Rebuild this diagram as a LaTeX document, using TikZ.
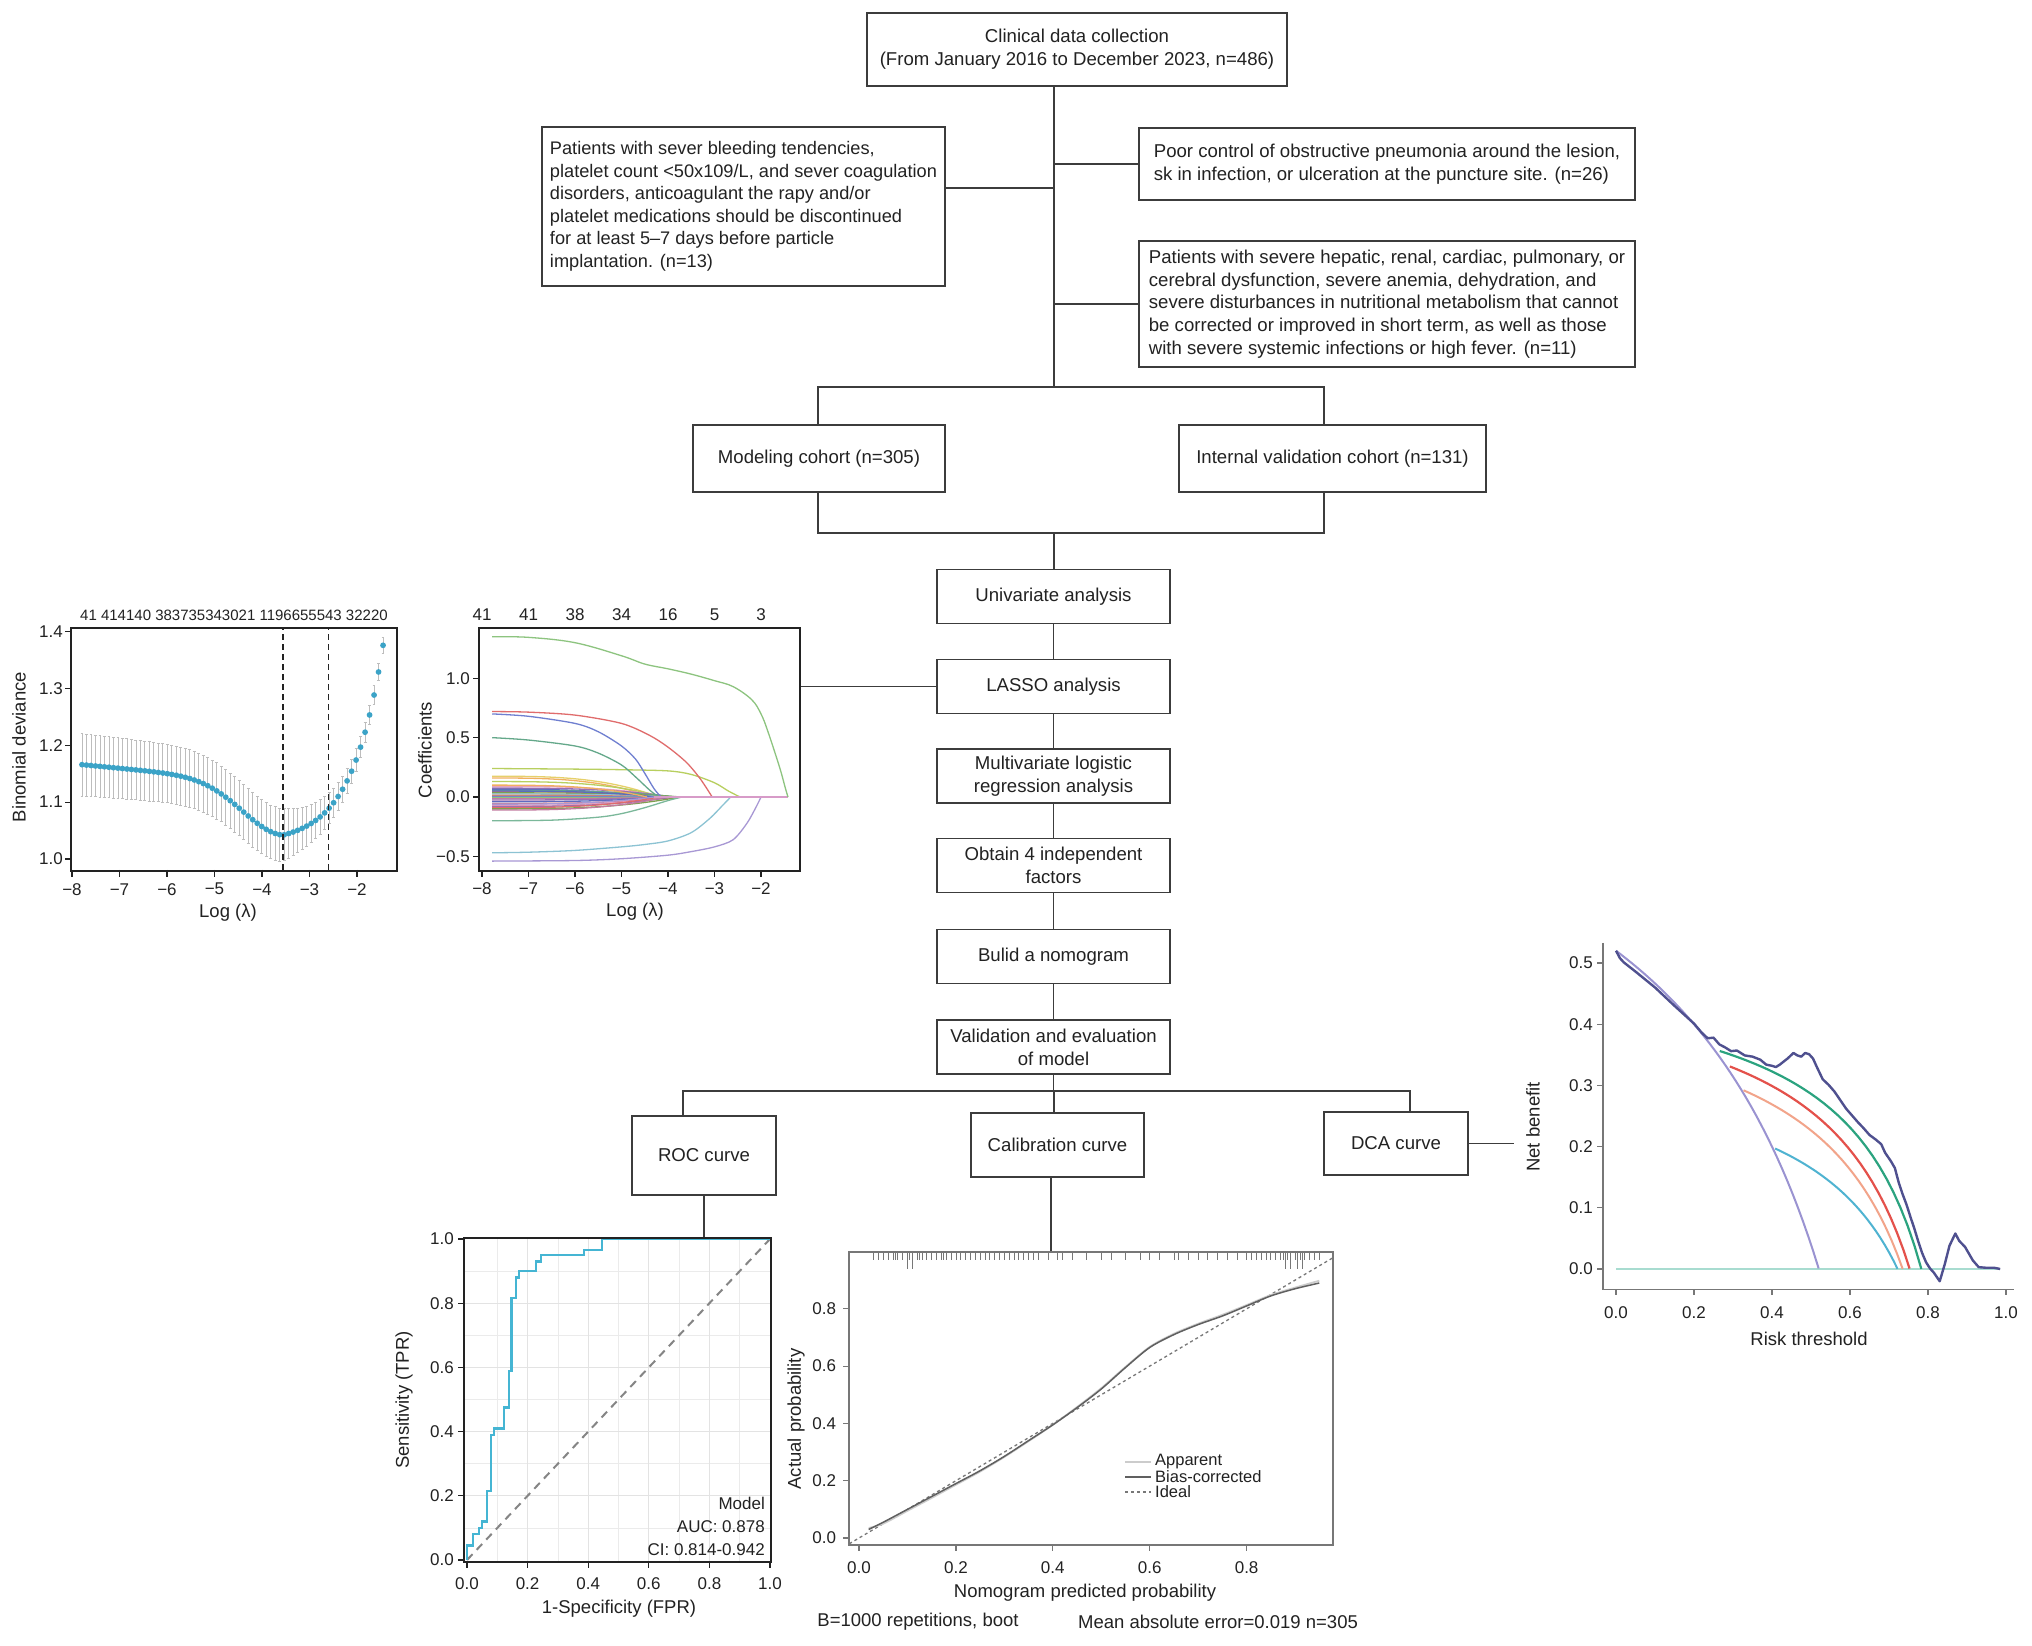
\documentclass[tikz,border=0pt]{standalone}
\usepackage{fontspec}
\setmainfont{Liberation Sans}
\definecolor{txt}{HTML}{222222}
\definecolor{boxc}{HTML}{3C3C3C}
\definecolor{linec}{HTML}{3C3C3C}
\definecolor{cvblue}{HTML}{3BA3C7}
\definecolor{cvgray}{HTML}{BDBDBD}
\definecolor{gridc}{HTML}{E3E3E3}
\definecolor{rocc}{HTML}{45B5D3}
\definecolor{lgA}{HTML}{8DC47F}
\definecolor{lgB}{HTML}{E06C6C}
\definecolor{lgC}{HTML}{6F7FD0}
\definecolor{lgD}{HTML}{64A88A}
\definecolor{lgE}{HTML}{B8CF5F}
\definecolor{lgF}{HTML}{8CC3D3}
\definecolor{lgG}{HTML}{A898D4}
\definecolor{lgH}{HTML}{7BB89A}
\definecolor{lgI}{HTML}{E6D06A}
\definecolor{lgJ}{HTML}{F0B060}
\definecolor{lgK}{HTML}{E7A0C0}
\definecolor{lgL}{HTML}{9B6FB0}
\definecolor{lgM}{HTML}{5C6BC0}
\definecolor{lgN}{HTML}{C27BA0}
\definecolor{lgO}{HTML}{7F9F4F}
\definecolor{lgP}{HTML}{D9826A}
\definecolor{lgZ}{HTML}{D79BC8}
\definecolor{dnavy}{HTML}{4F508F}
\definecolor{dgreen}{HTML}{2BA37F}
\definecolor{dred}{HTML}{E4514B}
\definecolor{dsalmon}{HTML}{F2A48A}
\definecolor{dcyan}{HTML}{4FB3D1}
\definecolor{dlav}{HTML}{9A93D1}
\definecolor{dnone}{HTML}{A8DCD0}
\definecolor{axg}{HTML}{777777}
\tikzset{
  box/.style={draw=boxc, line width=1.6pt, inner sep=0pt, align=center, text=txt, font=\fontsize{18.6}{22.8}\selectfont},
  stepbox/.style={box, minimum width=233pt, minimum height=54pt},
  conn/.style={draw=linec, line width=1.5pt},
  lab/.style={font=\fontsize{17}{20}\selectfont, text=txt, inner sep=0pt},
  titlelab/.style={font=\fontsize{18.5}{21}\selectfont, text=txt, inner sep=0pt},
  smalllab/.style={font=\fontsize{15}{17}\selectfont, text=txt, inner sep=0pt},
  leglab/.style={font=\fontsize{16.5}{18}\selectfont, text=txt, inner sep=0pt},
  plotframe/.style={draw=txt, line width=1.6pt, inner sep=0pt},
  tickline/.style={draw=txt, line width=1.2pt},
  lassoline/.style={line width=1.3pt},
}
\begin{document}
\begin{tikzpicture}[x=1pt,y=-1pt]
\useasboundingbox (0,0) rectangle (2032,1646);
\fill[white] (0,0) rectangle (2032,1646);

% ---------------- flowchart boxes ----------------
\node[box, minimum width=420pt, minimum height=73pt] (collect) at (1077,49.5) {Clinical data collection\\(From January 2016 to December 2023, n=486)};
\node[box, align=left, font=\fontsize{18.2}{22.5}\selectfont, minimum width=403pt, minimum height=159pt] (excl1) at (743.5,206.5) {Patients with sever bleeding tendencies,\\platelet count <50x109/L, and sever coagulation\\disorders, anticoagulant the rapy and/or\\platelet medications should be discontinued\\for at least 5–7 days before particle\\implantation. (n=13)};
\node[box, align=left, minimum width=496pt, minimum height=72pt] (excl2) at (1387,164) {Poor control of obstructive pneumonia around the lesion,\\sk in infection, or ulceration at the puncture site. (n=26)};
\node[box, align=left, minimum width=496pt, minimum height=126pt] (excl3) at (1387,304) {Patients with severe hepatic, renal, cardiac, pulmonary, or\\cerebral dysfunction, severe anemia, dehydration, and\\severe disturbances in nutritional metabolism that cannot\\be corrected or improved in short term, as well as those\\with severe systemic infections or high fever. (n=11)};
\node[box, minimum width=252pt, minimum height=67pt] (model) at (819,458.5) {Modeling cohort (n=305)};
\node[box, minimum width=307pt, minimum height=67pt] (intval) at (1332.5,458.5) {Internal validation cohort (n=131)};
\node[stepbox] (uni) at (1053.5,596.5) {Univariate analysis};
\node[stepbox] (lasso) at (1053.5,686.5) {LASSO analysis};
\node[stepbox] (multi) at (1053.5,776) {Multivariate logistic\\regression analysis};
\node[stepbox] (obtain) at (1053.5,865.5) {Obtain 4 independent\\factors};
\node[stepbox] (build) at (1053.5,956.5) {Bulid a nomogram};
\node[stepbox] (valid) at (1053.5,1047) {Validation and evaluation\\of model};
\node[box, minimum width=144pt, minimum height=79pt] (roc) at (704,1155.5) {ROC curve};
\node[box, minimum width=173pt, minimum height=64pt] (calib) at (1057.5,1145) {Calibration curve};
\node[box, minimum width=144pt, minimum height=63pt] (dca) at (1396,1143.5) {DCA curve};

% ---------------- CV plot ----------------
\begin{scope}[shift={(452,1428)}, x={(47.5pt,0pt)}, y={(0pt,569pt)}]
  \foreach \i in {0,...,67}{
    \pgfmathsetmacro\lv{-7.79+\i*0.0946}
    \pgfmathsetmacro\dv{-3.56-\lv}
    \pgfmathsetmacro\mv{\dv>0 ? 1.042+0.09*(1-exp(-1*(\dv/1.2)*(\dv/1.2)))+0.008*\dv : 1.042+0.0138*(exp(-1.53*\dv)-1)}
    \pgfmathsetmacro\sv{\dv>0 ? 0.0465+0.002*\dv : 0.0465*exp(0.55*\dv)}
    \draw[cvgray, line width=0.8pt] (\lv,\mv-\sv) -- (\lv,\mv+\sv) (\lv-0.03,\mv-\sv) -- (\lv+0.03,\mv-\sv) (\lv-0.03,\mv+\sv) -- (\lv+0.03,\mv+\sv);
  }
  \foreach \i in {0,...,67}{
    \pgfmathsetmacro\lv{-7.79+\i*0.0946}
    \pgfmathsetmacro\dv{-3.56-\lv}
    \pgfmathsetmacro\mv{\dv>0 ? 1.042+0.09*(1-exp(-1*(\dv/1.2)*(\dv/1.2)))+0.008*\dv : 1.042+0.0138*(exp(-1.53*\dv)-1)}
    \fill[cvblue] (\lv,\mv) circle[radius=2.9pt];
  }
  \draw[txt, line width=1.6pt, dash pattern=on 6pt off 4pt] (-3.56,0.981) -- (-3.56,1.404);
  \draw[txt, line width=1.6pt, dash pattern=on 6pt off 4pt] (-2.6,0.981) -- (-2.6,1.404);
  \foreach \t/\tl in {-8/−8,-7/−7,-6/−6,-5/−5,-4/−4,-3/−3,-2/−2}{
    \draw[tickline] (\t,0.981) -- (\t,0.968);
    \node[lab] at (\t,0.947) {\tl};
  }
  \foreach \d in {1.0,1.1,1.2,1.3,1.4}{
    \draw[tickline] (-8.02,\d) -- (-8.15,\d);
    \node[lab, anchor=east] at (-8.19,\d) {\d};
  }
\end{scope}
\node[plotframe, minimum width=326pt, minimum height=243pt] (cvframe) at (234,749.5) {};
\node[smalllab] (cvtop) at (234,615) {41 414140 383735343021 1196655543 32220};
\node[titlelab, rotate=90] (cvylab) at (19,747) {Binomial deviance};
\node[titlelab] (cvxlab) at (228,913) {Log (λ)};

% ---------------- LASSO coefficient plot ----------------
\begin{scope}[shift={(854,797)}, x={(46.5pt,0pt)}, y={(0pt,118.7pt)}]
  \foreach \c/\z/\col in {0.175/-4.2/lgI, 0.16/-4.35/lgJ, 0.13/-4.1/lgE, 0.09/-4.0/lgK, 0.075/-3.9/lgL, 0.065/-4.4/lgM, 0.055/-3.8/lgD, 0.045/-4.1/lgB, 0.035/-3.7/lgO, 0.025/-3.9/lgF, 0.015/-4.2/lgP, 0.005/-3.95/lgC, -0.005/-3.8/lgA, -0.015/-4.0/lgN, -0.025/-3.9/lgL, -0.04/-4.1/lgM, -0.055/-3.8/lgB, -0.07/-4.0/lgK, -0.08/-3.9/lgL, -0.09/-4.2/lgB, -0.1/-3.75/lgO, -0.11/-4.05/lgN, 0.05/-4.25/lgM, -0.06/-4.3/lgG, 0.1/-4.45/lgJ}{
    \draw[\col, lassoline] plot[smooth, domain=0:1, samples=20] ({-7.78+\x*(\z+7.78)}, {\c*(1-\x*\x*\x)});
  }
  \draw[lgH, lassoline] plot[smooth] coordinates {(-7.78,-0.20) (-6.5,-0.195) (-5.5,-0.17) (-5,-0.14) (-4.5,-0.09) (-4,-0.03) (-3.7,0)};
  \draw[lgE, lassoline] plot[smooth] coordinates {(-7.78,0.24) (-6,0.235) (-5,0.23) (-4,0.22) (-3.5,0.19) (-3,0.12) (-2.7,0.05) (-2.45,0)};
  \draw[lgD, lassoline] plot[smooth] coordinates {(-7.78,0.50) (-7,0.48) (-6,0.43) (-5.5,0.37) (-5,0.27) (-4.7,0.17) (-4.4,0.06) (-4.2,0)};
  \draw[lgC, lassoline] plot[smooth] coordinates {(-7.78,0.70) (-7,0.68) (-6,0.62) (-5.5,0.55) (-5,0.43) (-4.7,0.32) (-4.5,0.2) (-4.3,0.07) (-4.15,0)};
  \draw[lgB, lassoline] plot[smooth] coordinates {(-7.78,0.72) (-7,0.715) (-6,0.69) (-5,0.62) (-4.4,0.52) (-4,0.42) (-3.6,0.29) (-3.3,0.15) (-3.05,0)};
  \draw[lgF, lassoline] plot[smooth] coordinates {(-7.78,-0.47) (-7,-0.465) (-6,-0.45) (-5,-0.42) (-4.5,-0.40) (-4,-0.37) (-3.5,-0.30) (-3.1,-0.18) (-2.8,-0.06) (-2.65,0)};
  \draw[lgG, lassoline] plot[smooth] coordinates {(-7.78,-0.54) (-6,-0.535) (-5,-0.52) (-4,-0.49) (-3.5,-0.46) (-3.0,-0.42) (-2.6,-0.36) (-2.3,-0.22) (-2.1,-0.08) (-2.0,0)};
  \draw[lgZ, lassoline] (-4.3,0) -- (-1.42,0);
  \draw[lgA, lassoline] plot[smooth, tension=0.6] coordinates {(-7.78,1.35) (-7,1.345) (-6,1.30) (-5,1.19) (-4.5,1.12) (-4,1.08) (-3.5,1.035) (-3,0.98) (-2.6,0.93) (-2.2,0.82) (-2.0,0.70) (-1.85,0.55) (-1.6,0.25) (-1.48,0.08) (-1.42,0)};
  \foreach \t/\tl in {-8/−8,-7/−7,-6/−6,-5/−5,-4/−4,-3/−3,-2/−2}{
    \draw[tickline] (\t,-0.622) -- (\t,-0.673);
    \node[lab] at (\t,-0.775) {\tl};
  }
  \foreach \c/\cl in {-0.5/−0.5,0/0.0,0.5/0.5,1/1.0}{
    \draw[tickline] (-8.06,\c) -- (-8.19,\c);
    \node[lab, anchor=east] at (-8.26,\c) {\cl};
  }
  \foreach \t/\n in {-8/41,-7/41,-6/38,-5/34,-4/16,-3/5,-2/3}{
    \node[lab] at (\t,1.535) {\n};
  }
\end{scope}
\node[plotframe, minimum width=321pt, minimum height=243pt] (lassoframe) at (639.5,749.5) {};
\node[titlelab, rotate=90] (lassoylab) at (425,750) {Coefficients};
\node[titlelab] (lassoxlab) at (635,912) {Log (λ)};

% ---------------- ROC plot ----------------
\begin{scope}[shift={(467,1560)}, x={(303pt,0pt)}, y={(0pt,321pt)}]
  \foreach \g in {0.1,0.3,0.5,0.7,0.9}{
    \draw[gridc!70, line width=0.8pt] (\g,-0.006) -- (\g,1.006);
    \draw[gridc!70, line width=0.8pt] (-0.01,\g) -- (1.003,\g);
  }
  \foreach \g in {0.2,0.4,0.6,0.8}{
    \draw[gridc, line width=1.3pt] (\g,-0.006) -- (\g,1.006);
    \draw[gridc, line width=1.3pt] (-0.01,\g) -- (1.003,\g);
  }
  \draw[axg!90, line width=2pt, dash pattern=on 8pt off 6pt] (0,0) -- (1,1);
  \draw[rocc, line width=2.2pt] plot coordinates {(0,0) (0,0.045) (0.02,0.045) (0.02,0.08) (0.04,0.08) (0.04,0.10) (0.05,0.10) (0.05,0.12) (0.066,0.12) (0.066,0.215) (0.079,0.215) (0.079,0.39) (0.09,0.39) (0.09,0.41) (0.123,0.41) (0.123,0.475) (0.139,0.475) (0.139,0.59) (0.147,0.59) (0.147,0.815) (0.161,0.815) (0.161,0.88) (0.172,0.88) (0.172,0.90) (0.229,0.90) (0.229,0.93) (0.243,0.93) (0.243,0.95) (0.386,0.95) (0.386,0.965) (0.446,0.965) (0.446,1) (1,1)};
  \foreach \g in {0.0,0.2,0.4,0.6,0.8,1.0}{
    \draw[tickline] (-0.01,\g) -- (-0.03,\g);
    \node[lab, anchor=east] at (-0.043,\g) {\g};
    \draw[tickline] (\g,-0.006) -- (\g,-0.025);
    \node[lab] at (\g,-0.075) {\g};
  }
\end{scope}
\node[plotframe, minimum width=307pt, minimum height=324pt] (rocframe) at (617.5,1400) {};
\node[lab, anchor=east] (rocm) at (765,1503) {Model};
\node[lab, anchor=east] (roca) at (765,1527) {AUC: 0.878};
\node[lab, anchor=east] (rocci) at (765,1550) {CI: 0.814-0.942};
\node[titlelab, rotate=90] (rocylab) at (404,1400) {Sensitivity (TPR)};
\node[titlelab] (rocxlab) at (619,1609) {1-Specificity (FPR)};

% ---------------- Calibration plot ----------------
\begin{scope}[shift={(859,1538)}, x={(484.5pt,0pt)}, y={(0pt,286.5pt)}]
  \foreach \r in {0.03,0.04,0.05,0.06,0.07,0.075,0.08,0.09,0.1,0.105,0.11,0.12,0.125,0.13,0.14,0.15,0.16,0.17,0.175,0.18,0.19,0.2,0.21,0.22,0.23,0.24,0.25,0.26,0.27,0.28,0.29,0.3,0.31,0.32,0.33,0.34,0.35,0.36,0.37,0.39,0.41,0.42,0.44,0.47,0.5,0.52,0.55,0.58,0.6,0.62,0.65,0.66,0.68,0.7,0.72,0.74,0.76,0.78,0.8,0.81,0.82,0.83,0.84,0.85,0.86,0.87,0.875,0.88,0.885,0.89,0.9,0.905,0.91,0.92,0.93,0.94,0.95}{
    \draw[axg, line width=0.8pt] (\r,0.998) -- (\r,0.972);
  }
  \foreach \r in {0.1,0.11,0.88,0.89,0.905,0.915}{
    \draw[axg, line width=0.8pt] (\r,0.998) -- (\r,0.94);
  }
  \draw[axg, line width=1.3pt, dash pattern=on 3pt off 3pt] (-0.02,-0.02) -- (0.978,0.978);
  \draw[gray!40, line width=1.8pt] plot[smooth] coordinates {(0.02,0.035) (0.05,0.05) (0.1,0.095) (0.15,0.14) (0.2,0.186) (0.25,0.232) (0.3,0.283) (0.35,0.338) (0.4,0.395) (0.45,0.457) (0.5,0.523) (0.55,0.597) (0.6,0.667) (0.65,0.713) (0.7,0.748) (0.75,0.779) (0.8,0.813) (0.85,0.848) (0.9,0.874) (0.95,0.898)};
  \draw[gray!75!black, line width=1.5pt] plot[smooth] coordinates {(0.02,0.03) (0.05,0.055) (0.1,0.1) (0.15,0.145) (0.2,0.19) (0.25,0.235) (0.3,0.285) (0.35,0.34) (0.4,0.395) (0.45,0.455) (0.5,0.52) (0.55,0.595) (0.6,0.665) (0.65,0.71) (0.7,0.745) (0.75,0.775) (0.8,0.81) (0.85,0.845) (0.9,0.87) (0.95,0.89)};
  \foreach \g in {0.0,0.2,0.4,0.6,0.8}{
    \draw[tickline, axg] (-0.02,\g) -- (-0.034,\g);
    \node[lab, anchor=east] at (-0.047,\g) {\g};
    \draw[tickline, axg] (\g,-0.024) -- (\g,-0.046);
    \node[lab] at (\g,-0.105) {\g};
  }
\end{scope}
\node[draw=axg, line width=1.4pt, inner sep=0pt, minimum width=484pt, minimum height=293pt] (calframe) at (1091,1398.5) {};
\coordinate (lg1) at (1125,1462);
\coordinate (lg2) at (1125,1477);
\coordinate (lg3) at (1125,1492);
\draw[gray!40, line width=1.8pt] (lg1) -- ++(26,0);
\draw[gray!75!black, line width=1.5pt] (lg2) -- ++(26,0);
\draw[axg, line width=1.3pt, dash pattern=on 3pt off 3pt] (lg3) -- ++(26,0);
\node[leglab, anchor=west] (lgt1) at (1155,1462) {Apparent};
\node[leglab, anchor=west] (lgt2) at (1155,1477) {Bias-corrected};
\node[leglab, anchor=west] (lgt3) at (1155,1492) {Ideal};
\node[titlelab, rotate=90] (calylab) at (796,1419) {Actual probability};
\node[titlelab] (calxlab) at (1085,1593) {Nomogram predicted probability};
\node[titlelab] (calb) at (918,1622) {B=1000 repetitions, boot};
\node[titlelab] (calmae) at (1218,1622) {Mean absolute error=0.019 n=305};

% ---------------- DCA plot ----------------
\begin{scope}[shift={(1616,1269)}, x={(390pt,0pt)}, y={(0pt,612pt)}]
  \draw[dnone, line width=2pt] (0,0) -- (0.985,0);
  \draw[dlav, line width=2pt] plot[domain=0:0.52, samples=40] (\x,{0.52-0.48*\x/(1-\x)});
  \draw[dcyan, line width=2pt] plot[domain=0.408:0.722, samples=30] (\x,{0.268-0.1032*\x/(1-\x)});
  \draw[dsalmon, line width=2pt] plot[domain=0.327:0.735, samples=30] (\x,{0.354-0.1276*\x/(1-\x)});
  \draw[dred, line width=2.2pt] plot[domain=0.292:0.753, samples=30] (\x,{0.3827-0.1255*\x/(1-\x)});
  \draw[dgreen, line width=2.2pt] plot[domain=0.266:0.783, samples=30] (\x,{0.396-0.1098*\x/(1-\x)});
  \draw[dnavy, line width=2.4pt, line join=round] plot coordinates {(0,0.52) (0.01,0.508) (0.02,0.501) (0.05,0.486) (0.1,0.46) (0.15,0.43) (0.2,0.401) (0.22,0.386) (0.235,0.377) (0.25,0.378) (0.265,0.367) (0.28,0.362) (0.295,0.356) (0.31,0.357) (0.33,0.349) (0.35,0.347) (0.37,0.342) (0.385,0.334) (0.4,0.332) (0.41,0.33) (0.42,0.334) (0.43,0.339) (0.44,0.344) (0.455,0.353) (0.465,0.349) (0.475,0.347) (0.485,0.353) (0.495,0.351) (0.505,0.344) (0.515,0.33) (0.53,0.31) (0.545,0.301) (0.56,0.29) (0.575,0.276) (0.59,0.262) (0.605,0.251) (0.62,0.24) (0.635,0.23) (0.65,0.219) (0.665,0.212) (0.68,0.204) (0.69,0.19) (0.705,0.176) (0.715,0.165) (0.725,0.141) (0.735,0.122) (0.745,0.105) (0.755,0.085) (0.765,0.066) (0.775,0.045) (0.785,0.026) (0.795,0.011) (0.805,0.001) (0.815,-0.006) (0.83,-0.02) (0.843,0.008) (0.855,0.038) (0.87,0.058) (0.88,0.046) (0.895,0.036) (0.905,0.025) (0.915,0.014) (0.93,0.003) (0.95,0.002) (0.97,0.002) (0.985,0.0)};
  \draw[axg, line width=1.4pt] (-0.033,0.533) -- (-0.033,-0.033) -- (1.02,-0.033);
  \foreach \g in {0.0,0.1,0.2,0.3,0.4,0.5}{
    \draw[axg, line width=1.2pt] (-0.033,\g) -- (-0.048,\g);
    \node[lab, anchor=east] at (-0.059,\g) {\g};
  }
  \foreach \g in {0.0,0.2,0.4,0.6,0.8,1.0}{
    \draw[axg, line width=1.2pt] (\g,-0.033) -- (\g,-0.043);
    \node[lab] at (\g,-0.072) {\g};
  }
\end{scope}
\node[titlelab, rotate=90] (dcaylab) at (1533,1127) {Net benefit};
\node[titlelab] (dcaxlab) at (1809,1339) {Risk threshold};

% ---------------- connectors ----------------
\coordinate (ju) at (1054,387);
\coordinate (jl) at (1054,188);
\draw[conn] (collect.south -| ju) -- (ju);
\draw[conn] (jl) -- (jl -| excl1.east);
\draw[conn] (excl2.west -| ju) -- (excl2.west);
\draw[conn] (excl3.west -| ju) -- (excl3.west);
\coordinate (ua) at (818,387);
\coordinate (ub) at (1324,387);
\draw[conn] (ua |- model.north) -- (ua) -- (ub) -- (ub |- intval.north);
\coordinate (la) at (818,533);
\coordinate (lb) at (1324,533);
\coordinate (lm) at (1054,533);
\draw[conn] (model.south -| la) -- (la) -- (lb) -- (intval.south -| lb);
\draw[conn] (lm) -- (uni.north -| lm);
\draw[conn] (uni) -- (lasso) -- (multi) -- (obtain) -- (build) -- (valid);
\coordinate (sa) at (683,1091);
\coordinate (sb) at (1410,1091);
\coordinate (sm) at (1054,1091);
\coordinate (cb) at (1051,1177);
\draw[conn] (valid.south) -- (valid.south |- sa);
\draw[conn] (sa |- roc.north) -- (sa) -- (sb) -- (sb |- dca.north);
\draw[conn] (sm) -- (sm |- calib.north);
\draw[conn] (roc.south) -- (roc.south |- rocframe.north);
\draw[conn] (calib.south -| cb) -- (cb |- calframe.north);
\draw[conn] (lasso.west) -- (lasso.west -| lassoframe.east);
\coordinate (dcaend) at (1514,1144);
\draw[conn] (dca.east) -- (dca.east -| dcaend);
\end{tikzpicture}
\end{document}
